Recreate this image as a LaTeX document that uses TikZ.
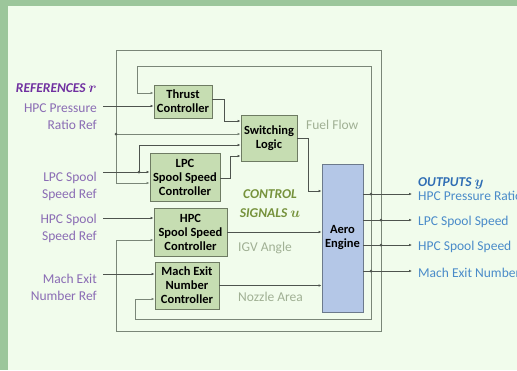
\documentclass[tikz,border=0pt]{standalone}
\usepackage{fontspec}
\setmainfont{Carlito}
\usetikzlibrary{arrows.meta}
\definecolor{edgegreen}{HTML}{9CC69B}
\definecolor{panel}{HTML}{F1FCEC}
\definecolor{ctlfill}{HTML}{C6DDB2}
\definecolor{ctlline}{HTML}{6E7B63}
\definecolor{engfill}{HTML}{B4C7E7}
\definecolor{engline}{HTML}{6C7A8C}
\definecolor{wirecol}{HTML}{4E544E}
\definecolor{loopcol}{HTML}{7A8678}
\definecolor{refcol}{HTML}{8A6CB4}
\definecolor{refhead}{HTML}{7030A0}
\definecolor{sigcol}{HTML}{A0B094}
\definecolor{ctrlgreen}{HTML}{76923C}
\definecolor{outcol}{HTML}{4A8BC9}
\definecolor{outhead}{HTML}{2E6DB4}

\begin{document}
\begin{tikzpicture}[x=1pt,y=-1pt,
  every node/.style={font=\fontsize{13.5}{17}\selectfont,inner sep=0pt},
  ctl/.style={draw=ctlline,fill=ctlfill,line width=0.9pt,align=center,
    font=\bfseries\fontsize{12.5}{14}\selectfont},
  wire/.style={draw=wirecol,line width=0.7pt},
  arr/.style={wire,-{Latex[length=3pt,width=2.6pt]}},
  fb/.style={draw=loopcol,line width=1pt,-{Latex[length=3pt,width=2.6pt]}},
  refl/.style={text=refcol,align=right,anchor=north east},
  sig/.style={text=sigcol,anchor=west},
  outl/.style={text=outcol,anchor=west},
  head/.style={font=\bfseries\itshape\fontsize{13.5}{18.5}\selectfont}]
  \useasboundingbox (0,0) rectangle (517,370);
  \fill[edgegreen] (0,0) rectangle (517,370);
  \fill[panel] (8,6) rectangle (517,370);

  \node[ctl,minimum width=58pt,minimum height=33pt] (thr) at (183,101.5) {Thrust\\Controller};
  \node[ctl,minimum width=56pt,minimum height=46pt] (swl) at (269,138) {Switching\\Logic};
  \node[ctl,minimum width=70pt,minimum height=48pt] (lpc) at (185,177) {LPC\\Spool Speed\\Controller};
  \node[ctl,minimum width=73pt,minimum height=48pt] (hpc) at (190.5,232) {HPC\\Spool Speed\\Controller};
  \node[ctl,minimum width=64pt,minimum height=47pt] (mach) at (187,285.5) {Mach Exit\\Number\\Controller};
  \node[ctl,draw=engline,fill=engfill,minimum width=41pt,minimum height=148pt] (eng) at (342.5,238) {Aero\\Engine};

  \node[head,text=refhead,anchor=east] (refs) at (97,88) {REFERENCES {\boldmath$r$}};
  \node[refl] (r1) at (97,104) {HPC Pressure\\Ratio Ref};
  \node[refl] (r2) at (97,172) {LPC Spool\\Speed Ref};
  \node[refl] (r3) at (97,214) {HPC Spool\\Speed Ref};
  \node[refl] (r4) at (97,274) {Mach Exit\\Number Ref};

  \node[sig] (ff) at (306,125) {Fuel Flow};
  \node[sig] (igv) at (238,248) {IGV Angle};
  \node[sig] (noz) at (238,297) {Nozzle Area};
  \node[head,text=ctrlgreen,align=center] (cs) at (270,203.5) {CONTROL\\SIGNALS {\boldmath$u$}};

  \node[head,text=outhead,anchor=west] (outs) at (418,183) {OUTPUTS {\boldmath$y$}};
  \node[outl] (o1) at (418,196) {HPC Pressure Ratio};
  \node[outl] (o2) at (418,221.5) {LPC Spool Speed};
  \node[outl] (o3) at (418,246.5) {HPC Spool Speed};
  \node[outl] (o4) at (418,272.5) {Mach Exit Number};

  \coordinate (j1) at (371,194);
  \coordinate (j2) at (381,220);
  \coordinate (j3) at (381,245);
  \coordinate (j4) at (371,271);
  \coordinate (it) at (137,66);
  \coordinate (ib) at (135,319);
  \coordinate (ot) at (116,50);
  \coordinate (ob) at (116,331);
  \coordinate (k1) at (116,134);
  \coordinate (k2) at (139,172);
  \coordinate (s1) at (103,106);
  \coordinate (s2) at (103,172);
  \coordinate (s3) at (103,218);
  \coordinate (s4) at (103,274);

  \draw[fb] (j4) |- (it) |- (thr.west|-0,93);
  \draw[fb] (j1) |- (ib) |- (mach.west|-0,299);
  \draw[fb] (j3) |- (ot) |- (lpc.west|-0,183);
  \draw[fb] (j2) |- (ob) |- (hpc.west|-0,240);
  \draw[fb] (k1) -- (swl.west|-k1);

  \draw[arr] (s1) -- (thr.west|-s1);
  \draw[arr] (s2) -- (lpc.west|-s2);
  \draw[arr] (k2) |- (swl.west|-0,145);
  \draw[arr] (s3) -- (hpc.west|-s3);
  \draw[arr] (s4) -- (mach.west|-s4);

  \draw[arr] (thr.east|-0,99) -- ++(12,0) |- (swl.west|-0,121);
  \draw[arr] (lpc.east|-0,178) -- ++(10,0) |- (swl.west|-0,156);
  \draw[arr] (swl.east) -- ++(11,0) |- (eng.west|-0,191);
  \draw[arr] (hpc.east) -- (eng.west|-hpc.east);
  \draw[arr] (mach.east) -- (eng.west|-mach.east);

  \draw[arr,shorten >=6pt] (eng.east|-j1) -- (o1.west|-j1);
  \draw[arr,shorten >=6pt] (eng.east|-j2) -- (o2.west|-j2);
  \draw[arr,shorten >=6pt] (eng.east|-j3) -- (o3.west|-j3);
  \draw[arr,shorten >=6pt] (eng.east|-j4) -- (o4.west|-j4);

  \fill[wirecol] (j1) circle (1.5pt) (j2) circle (1.5pt) (j3) circle (1.5pt) (j4) circle (1.5pt);
  \fill[wirecol] (k1) circle (1.5pt) (k2) circle (1.5pt);
\end{tikzpicture}
\end{document}
